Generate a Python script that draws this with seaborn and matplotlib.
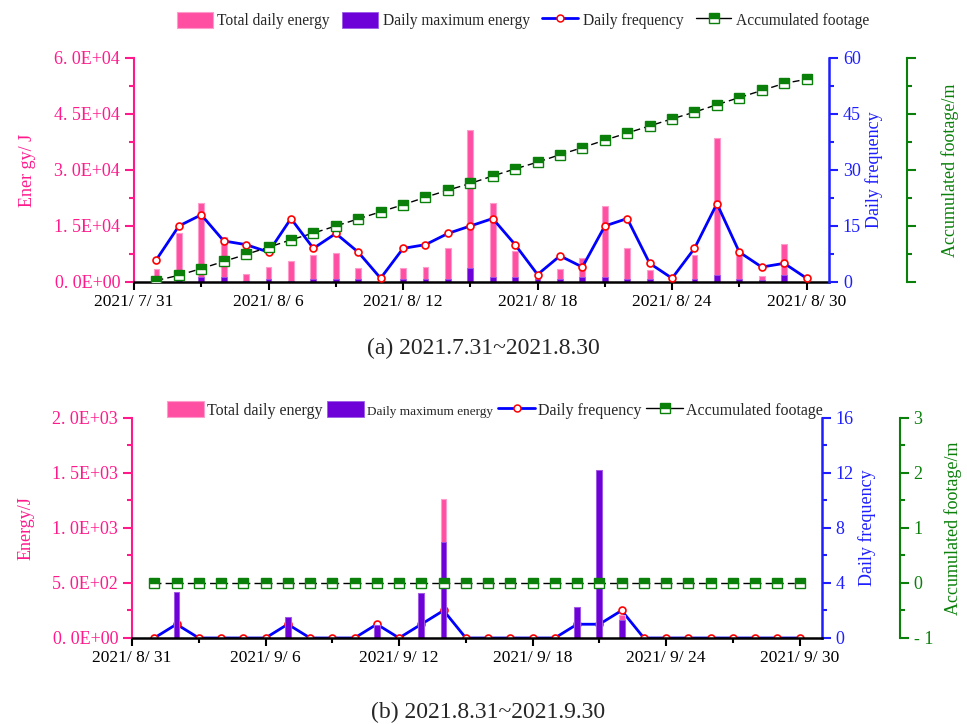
import numpy as np
import pandas as pd
import matplotlib
matplotlib.use("Agg")
import matplotlib.pyplot as plt
import seaborn as sns
from matplotlib.lines import Line2D
from matplotlib.patches import Patch
from matplotlib.ticker import FixedLocator, FixedFormatter, NullFormatter

sns.set_theme(style="ticks")
plt.rcParams["font.family"] = ["Liberation Serif", "DejaVu Serif"]

# ---------------- data ----------------
dates_a = pd.date_range("2021-08-01", "2021-08-30")
start_a = pd.Timestamp("2021-07-31")
total_a = [3500, 13200, 21200, 12000, 2100, 4000, 5700, 7200, 7700, 3700, 150, 3700, 4000, 9100, 40600,
           21200, 8200, 1000, 3600, 6300, 20400, 9200, 3100, 200, 7100, 38500, 7900, 1600, 10300, 100]
max_a = [1000, 1000, 1250, 1250, 200, 900, 300, 900, 900, 900, 100, 700, 700, 900, 3750,
         1250, 1250, 900, 900, 1250, 1400, 900, 700, 150, 900, 1800, 900, 500, 2000, 80]
freq_a = [6, 15, 18, 11, 10, 8, 17, 9, 13, 8, 1, 9, 10, 13, 15,
          17, 10, 2, 7, 4, 15, 17, 5, 1, 9, 21, 8, 4, 5, 1]
footage_a = [0.4, 1.8, 3.6, 5.5, 7.4, 9.3, 11.3, 13.1, 15.0, 16.9, 18.8, 20.7, 22.7, 24.6, 26.4,
             28.4, 30.3, 32.1, 34.1, 36.0, 38.0, 39.9, 41.8, 43.7, 45.5, 47.5, 49.4, 51.3, 53.2, 54.3]
xlabels_a = ["2021/ 7/ 31", "2021/ 8/ 6", "2021/ 8/ 12", "2021/ 8/ 18", "2021/ 8/ 24", "2021/ 8/ 30"]
ylabels_a = ["0. 0E+00", "1. 5E+04", "3. 0E+04", "4. 5E+04", "6. 0E+04"]
yticks_a = [0, 15000, 30000, 45000, 60000]
freq_ticks_a = [0, 15, 30, 45, 60]

dates_b = pd.date_range("2021-09-01", "2021-09-30")
start_b = pd.Timestamp("2021-08-31")
total_b = [0, 420, 0, 0, 0, 0, 195, 0, 0, 0, 120, 0, 410, 1263, 0,
           0, 0, 0, 0, 285, 1526, 205, 0, 0, 0, 0, 0, 0, 0, 0]
max_b = [0, 415, 0, 0, 0, 0, 193, 0, 0, 0, 119, 0, 406, 872, 0,
         0, 0, 0, 0, 284, 1526, 168, 0, 0, 0, 0, 0, 0, 0, 0]
freq_b = [0, 1, 0, 0, 0, 0, 1, 0, 0, 0, 1, 0, 1, 2, 0,
          0, 0, 0, 0, 1, 1, 2, 0, 0, 0, 0, 0, 0, 0, 0]
footage_b = [0] * 30
xlabels_b = ["2021/ 8/ 31", "2021/ 9/ 6", "2021/ 9/ 12", "2021/ 9/ 18", "2021/ 9/ 24", "2021/ 9/ 30"]
ylabels_b = ["0. 0E+00", "5. 0E+02", "1. 0E+03", "1. 5E+03", "2. 0E+03"]
yticks_b = [0, 500, 1000, 1500, 2000]
freq_ticks_b = [0, 4, 8, 12, 16]
foot_ticks_b = [-1, 0, 1, 2, 3]
foot_labels_b = ["- 1", "0", "1", "2", "3"]

PINK = "#FF4FA3"
PINK_EDGE = "#FF9CCB"
PINK_TXT = "#FF1A8C"
PURPLE = "#6E00D8"
BLUE = "#1E1EFF"
GREEN = "#0A800A"

fig = plt.figure(figsize=(9.67, 7.24), dpi=100)


def panel(rect, dates, start, total, mx, freq, foot, xlabels, ylabels, yticks, fticks,
          footlim, foot_ticks, foot_labels, ylab, bars_on_top, outward, foot_pad):
    ax = fig.add_axes(rect)
    x = np.array((dates - start).days)
    df = pd.DataFrame({"x": x, "total": total, "max": mx, "freq": freq, "foot": foot})

    sns.barplot(data=df, x="x", y="total", native_scale=True, width=0.26, color=PINK,
                saturation=1, edgecolor=PINK_EDGE, linewidth=0.8, errorbar=None, ax=ax)
    sns.barplot(data=df, x="x", y="max", native_scale=True, width=0.26, color=PURPLE,
                saturation=1, edgecolor="#9C5CE8", linewidth=0.6, errorbar=None, ax=ax)

    ax2 = ax.twinx()
    ax3 = ax.twinx()
    sns.lineplot(data=df, x="x", y="freq", ax=ax2, color="#0000FF", lw=2.0,
                 marker="o", markersize=5, markerfacecolor="white", markeredgecolor="red",
                 markeredgewidth=1.2)
    sns.lineplot(data=df, x="x", y="foot", ax=ax3, color="black", lw=1.0, dashes=False,
                 linestyle=(0, (5, 3)), marker="s", markersize=7.3, markerfacecolor=GREEN,
                 markerfacecoloralt="white", fillstyle="top", markeredgecolor=GREEN,
                 markeredgewidth=1.0)

    if bars_on_top:
        ax2.set_zorder(1)
        ax.set_zorder(2)
        ax3.set_zorder(3)
        ax.patch.set_visible(False)
        ax2.patch.set_facecolor("white")
        ax3.patch.set_visible(False)
    else:
        ax2.patch.set_visible(False)
        ax3.patch.set_visible(False)

    # x axis
    ax.set_xlim(0, 31)
    ax.xaxis.set_major_locator(FixedLocator([0, 6, 12, 18, 24, 30]))
    ax.xaxis.set_major_formatter(FixedFormatter(xlabels))
    ax.xaxis.set_minor_locator(FixedLocator([3, 9, 15, 21, 27]))
    ax.tick_params(axis="x", which="major", direction="out", length=5.5, width=1.5,
                   colors="black", labelsize=12.5, pad=3)
    ax.tick_params(axis="x", which="minor", direction="out", length=3.5, width=1.5, colors="black")
    ax.set_xlabel("")

    # left axis
    ax.set_ylim(yticks[0], yticks[-1])
    ax.yaxis.set_major_locator(FixedLocator(yticks))
    ax.yaxis.set_major_formatter(FixedFormatter(ylabels))
    step = yticks[1] - yticks[0]
    ax.yaxis.set_minor_locator(FixedLocator([t + step / 2 for t in yticks[:-1]]))
    ax.tick_params(axis="y", which="major", direction="out", length=6.5, width=1.5,
                   colors=PINK_TXT, labelsize=13)
    ax.tick_params(axis="y", which="minor", direction="out", length=3.5, width=1.5, colors=PINK_TXT)
    ax.set_ylabel(ylab, color=PINK_TXT, fontsize=13, labelpad=13)
    for s in ("top", "right"):
        ax.spines[s].set_visible(False)
    ax.spines["left"].set_color(PINK_TXT)
    ax.spines["left"].set_linewidth(1.5)
    ax.spines["bottom"].set_color("black")
    ax.spines["bottom"].set_linewidth(1.8)

    # freq axis
    ax2.set_ylim(fticks[0], fticks[-1])
    ax2.yaxis.set_major_locator(FixedLocator(fticks))
    fstep = fticks[1] - fticks[0]
    ax2.yaxis.set_minor_locator(FixedLocator([t + fstep / 2 for t in fticks[:-1]]))
    ax2.tick_params(axis="y", which="major", direction="out", length=6.5, width=1.5,
                    colors=BLUE, labelsize=13)
    ax2.tick_params(axis="y", which="minor", direction="out", length=3.5, width=1.5, colors=BLUE)
    ax2.set_ylabel("Daily frequency", color=BLUE, fontsize=13, labelpad=3)
    for s in ("top", "left", "bottom"):
        ax2.spines[s].set_visible(False)
    ax2.spines["right"].set_color(BLUE)
    ax2.spines["right"].set_linewidth(1.8)

    # footage axis
    ax3.spines["right"].set_position(("outward", outward))
    ax3.set_ylim(footlim)
    ax3.yaxis.set_major_locator(FixedLocator(foot_ticks))
    gstep = foot_ticks[1] - foot_ticks[0]
    ax3.yaxis.set_minor_locator(FixedLocator([t + gstep / 2 for t in foot_ticks[:-1]]))
    if foot_labels is None:
        ax3.yaxis.set_major_formatter(NullFormatter())
    else:
        ax3.yaxis.set_major_formatter(FixedFormatter(foot_labels))
    ax3.tick_params(axis="y", which="major", direction="out", length=6.5, width=1.5,
                    colors=GREEN, labelsize=13)
    ax3.tick_params(axis="y", which="minor", direction="out", length=3.5, width=1.5, colors=GREEN)
    ax3.set_ylabel("Accumulated footage/m", color=GREEN, fontsize=13, labelpad=foot_pad)
    for s in ("top", "left", "bottom"):
        ax3.spines[s].set_visible(False)
    ax3.spines["right"].set_color(GREEN)
    ax3.spines["right"].set_linewidth(1.5)
    for a in (ax2, ax3):
        a.set_xlim(0, 31)
        a.set_xlabel("")
    return ax, ax2, ax3


axa = panel([0.1386, 0.6105, 0.7187, 0.3094], dates_a, start_a, total_a, max_a, freq_a, footage_a,
            xlabels_a, ylabels_a, yticks_a, freq_ticks_a, (0, 60), [0, 15, 30, 45, 60], None,
            "Ener gy/ J", bars_on_top=False, outward=56, foot_pad=15)

axb = panel([0.1365, 0.1188, 0.7135, 0.3039], dates_b, start_b, total_b, max_b, freq_b, footage_b,
            xlabels_b, ylabels_b, yticks_b, freq_ticks_b, (-1, 3), foot_ticks_b, foot_labels_b,
            "Energy/J", bars_on_top=True, outward=56, foot_pad=8)


def handles():
    return [
        Patch(facecolor=PINK, edgecolor=PINK_EDGE, linewidth=0.8),
        Patch(facecolor=PURPLE, edgecolor="#9C5CE8", linewidth=0.6),
        Line2D([], [], color="#0000FF", lw=2, marker="o", markersize=5, markerfacecolor="white",
               markeredgecolor="red", markeredgewidth=1.1),
        Line2D([], [], color="black", lw=1.0, marker="s", markersize=7.3, markerfacecolor=GREEN,
               markerfacecoloralt="white", fillstyle="top", markeredgecolor=GREEN),
    ]


labels = ["Total daily energy", "Daily maximum energy", "Daily frequency", "Accumulated footage"]
fig.legend(handles(), labels, loc="center", bbox_to_anchor=(0.541, 0.972), ncol=4, frameon=False,
           fontsize=11.2, handlelength=2.3, handleheight=1.2, columnspacing=0.8, handletextpad=0.3)
legb = fig.legend(handles(), labels, loc="center", bbox_to_anchor=(0.512, 0.434), ncol=4,
                  frameon=False, fontsize=11.5, handlelength=2.3, handleheight=1.2,
                  columnspacing=0.3, handletextpad=0.2)
legb.get_texts()[1].set_fontsize(9.5)

fig.text(0.5, 1 - 348 / 724, "(a) 2021.7.31~2021.8.30", ha="center", va="center", fontsize=17)
fig.text(0.505, 1 - 712 / 724, "(b) 2021.8.31~2021.9.30", ha="center", va="center", fontsize=17)

fig.savefig("out.png", dpi=100)
